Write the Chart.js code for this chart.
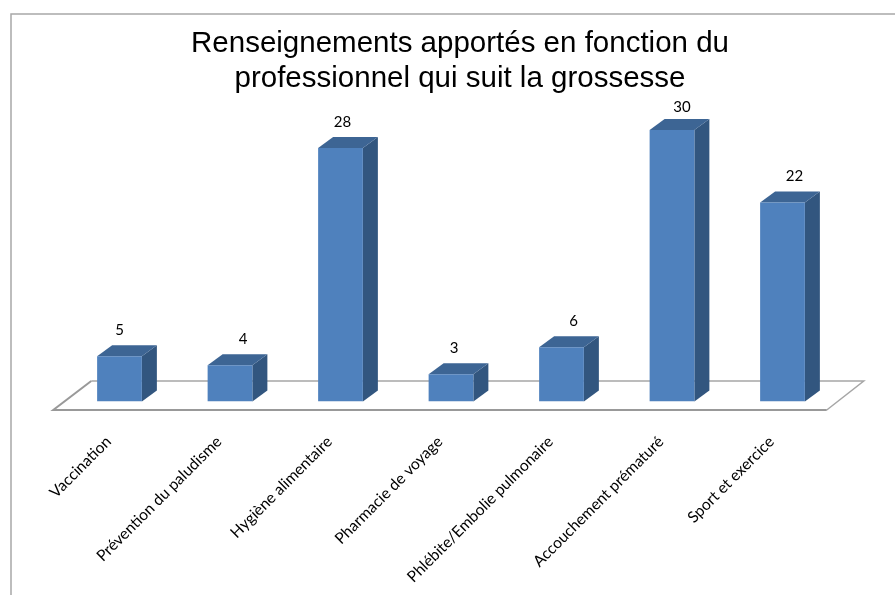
<!DOCTYPE html>
<html lang="fr">
<head>
<meta charset="utf-8">
<title>Renseignements apportés</title>
<script src="https://cdn.jsdelivr.net/npm/chart.js@4"></script>
<style>
  html, body { margin: 0; padding: 0; background: #fff; overflow: hidden; }
  canvas { display: block; }
</style>
</head>
<body>
<canvas id="myBarChart" width="895" height="595"></canvas>
<script>
var titleLines = ['Renseignements apportés en fonction du', 'professionnel qui suit la grossesse'];
var categories = ['Vaccination', 'Prévention du paludisme', 'Hygiène alimentaire', 'Pharmacie de voyage', 'Phlébite/Embolie pulmonaire', 'Accouchement prématuré', 'Sport et exercice'];
var values = [5, 4, 28, 3, 6, 30, 22];

// value labels do not sit quite centred in the original
var labelShift = [0, 13, 2, 3, 12, 10, 12];
var labelRise = [15, 15, 15, 15, 15, 12, 15];

var labelFont = '"Lato", "Open Sans", sans-serif';
var depthX = 15;
var depthY = 11;

// frame, floor, side and top faces of the bars
var boxPlugin = {
    id: 'box3d',
    afterLayout: function(chart) {
        // title is centred a bit right of the canvas
        chart.titleBlock.left += 18;
    },
    beforeDraw: function(chart) {
        var c = chart.ctx;
        c.save();
        c.fillStyle = '#fff';
        c.fillRect(0, 0, chart.width, chart.height);
        c.strokeStyle = '#a8a8a8';
        c.lineWidth = 1.5;
        c.beginPath();
        c.moveTo(11, chart.height);
        c.lineTo(11, 14);
        c.lineTo(chart.width, 14);
        c.stroke();
        c.restore();
    },
    beforeDatasetsDraw: function(chart) {
        var c = chart.ctx;
        var area = chart.chartArea;
        var base = chart.scales.y.getPixelForValue(0);
        var frontY = base + 8.5;
        var backY = base - 20.5;
        var left = area.left - 11;
        var right = area.right - 11;
        c.save();
        c.strokeStyle = '#a6a6a6';
        c.lineWidth = 1.5;
        c.beginPath();
        c.moveTo(left + 38, backY);
        c.lineTo(right + 37, backY);
        c.lineTo(right, frontY);
        c.stroke();
        c.beginPath();
        c.moveTo(left + 38, backY);
        c.lineTo(left, frontY);
        c.lineTo(right, frontY);
        c.strokeStyle = '#999999';
        c.lineWidth = 2;
        c.stroke();

        chart.getDatasetMeta(0).data.forEach(function(bar) {
            var l = bar.x - bar.width / 2;
            var r = bar.x + bar.width / 2;
            c.fillStyle = '#32567f';
            c.beginPath();
            c.moveTo(r, bar.y);
            c.lineTo(r + depthX, bar.y - depthY);
            c.lineTo(r + depthX, bar.base - depthY);
            c.lineTo(r, bar.base);
            c.closePath();
            c.fill();
            c.fillStyle = '#3d6594';
            c.beginPath();
            c.moveTo(l, bar.y);
            c.lineTo(l + depthX, bar.y - depthY);
            c.lineTo(r + depthX, bar.y - depthY);
            c.lineTo(r, bar.y);
            c.closePath();
            c.fill();
        });
        c.restore();
    },
    afterDatasetsDraw: function(chart) {
        var c = chart.ctx;
        c.save();
        c.fillStyle = '#000';
        c.font = '15px ' + labelFont;
        c.textAlign = 'center';
        c.textBaseline = 'middle';
        chart.getDatasetMeta(0).data.forEach(function(bar, i) {
            c.fillText(String(values[i]), bar.x + labelShift[i], bar.y - depthY - labelRise[i]);
        });
        c.restore();
    }
};

var ctx = document.getElementById('myBarChart').getContext('2d');
var myBarChart = new Chart(ctx, {
    type: 'bar',
    data: {
        labels: categories,
        datasets: [{
            label: 'Renseignements',
            data: values,
            backgroundColor: '#4f81bd',
            borderWidth: 0,
            categoryPercentage: 1,
            barPercentage: 0.405
        }]
    },
    options: {
        responsive: false,
        animation: false,
        layout: { padding: { left: 64.25, right: 57.25, top: 0, bottom: 0 } },
        scales: {
            x: {
                grid: { display: false, drawTicks: false },
                border: { display: false },
                afterFit: function(scale) {
                    scale.height = 193.5;
                    scale.paddingLeft = 0;
                    scale.paddingRight = 0;
                },
                ticks: {
                    color: '#000',
                    font: { family: labelFont, size: 15.6 },
                    autoSkip: false,
                    minRotation: 45,
                    maxRotation: 45,
                    padding: 31,
                    labelOffset: -11
                }
            },
            y: {
                display: false,
                min: 0,
                max: 30
            }
        },
        plugins: {
            legend: { display: false },
            tooltip: { enabled: false },
            title: {
                display: true,
                text: titleLines,
                color: '#000',
                font: { family: '"Liberation Sans", Arial, sans-serif', size: 29.5, weight: 'normal', lineHeight: 1.186 },
                padding: { top: 26.5, bottom: 33.5 }
            }
        }
    },
    plugins: [boxPlugin]
});
</script>
</body>
</html>
